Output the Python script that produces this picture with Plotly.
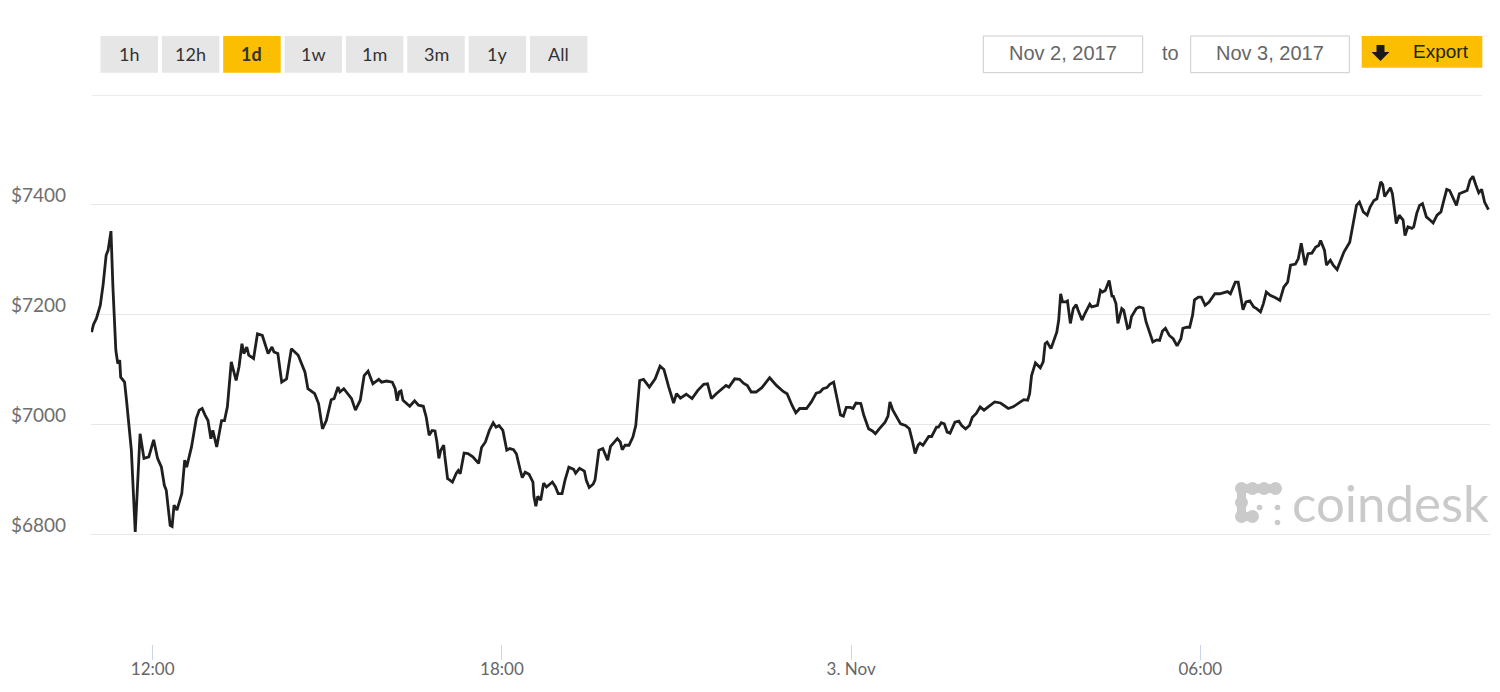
import plotly.graph_objects as go
from datetime import datetime, timedelta

# ---------------- data ----------------
times = [
    "10:57", "10:59", "11:02", "11:06", "11:09", "11:12", "11:14", "11:17", "11:19", "11:22",
    "11:24", "11:26", "11:27", "11:31", "11:33", "11:38", "11:42", "11:47", "11:51", "11:56",
    "12:01", "12:05", "12:09", "12:12", "12:14", "12:18", "12:20", "12:22", "12:25", "12:30",
    "12:33", "12:35", "12:40", "12:45", "12:48", "12:51", "12:54", "12:57", "13:00", "13:02",
    "13:06", "13:11", "13:14", "13:17", "13:21", "13:26", "13:29", "13:32", "13:34", "13:37",
    "13:39", "13:44", "13:48", "13:53", "13:59", "14:03", "14:05", "14:09", "14:13", "14:18",
    "14:23", "14:30", "14:37", "14:40", "14:47", "14:51", "14:55", "14:59", "15:04", "15:07",
    "15:11", "15:13", "15:17", "15:22", "15:25", "15:29", "15:34", "15:38", "15:42", "15:47",
    "15:53", "15:56", "16:01", "16:07", "16:10", "16:12", "16:14", "16:16", "16:18", "16:25",
    "16:30", "16:34", "16:39", "16:42", "16:45", "16:48", "16:51", "16:53", "16:55", "16:57",
    "17:00", "17:01", "17:04", "17:06", "17:09", "17:13", "17:15", "17:17", "17:21", "17:25",
    "17:30", "17:36", "17:39", "17:43", "17:47", "17:51", "17:54", "17:57", "18:01", "18:05",
    "18:08", "18:12", "18:15", "18:19", "18:21", "18:24", "18:28", "18:32", "18:33", "18:35",
    "18:37", "18:40", "18:43", "18:46", "18:49", "18:52", "18:55", "18:58", "19:02", "19:05",
    "19:09", "19:14", "19:16", "19:20", "19:25", "19:27", "19:30", "19:34", "19:36", "19:40",
    "19:44", "19:49", "19:52", "19:56", "19:59", "20:02", "20:04", "20:07", "20:11", "20:15",
    "20:18", "20:22", "20:26", "20:32", "20:38", "20:43", "20:47", "20:52", "20:57", "21:00",
    "21:04", "21:10", "21:16", "21:22", "21:28", "21:32", "21:36", "21:41", "21:47", "21:51",
    "21:54", "22:00", "22:05", "22:09", "22:13", "22:17", "22:22", "22:28", "22:36", "22:43",
    "22:50", "22:54", "22:59", "23:03", "23:07", "23:14", "23:19", "23:24", "23:28", "23:31",
    "23:35", "23:38", "23:42", "23:45", "23:49", "23:52", "23:55", "23:59", "00:02", "00:05",
    "00:10", "00:13", "00:18", "00:22", "00:25", "00:29", "00:35", "00:38", "00:40", "00:43",
    "00:48", "00:51", "00:56", "01:00", "01:03", "01:06", "01:09", "01:11", "01:14", "01:20",
    "01:23", "01:28", "01:30", "01:33", "01:36", "01:39", "01:42", "01:47", "01:51", "01:54",
    "01:58", "02:02", "02:05", "02:09", "02:13", "02:17", "02:22", "02:28", "02:34", "02:37",
    "02:42", "02:47", "02:53", "02:58", "03:02", "03:04", "03:06", "03:10", "03:15", "03:18",
    "03:20", "03:22", "03:26", "03:28", "03:32", "03:34", "03:36", "03:38", "03:41", "03:43",
    "03:46", "03:49", "03:52", "03:54", "03:58", "04:01", "04:06", "04:08", "04:14", "04:17",
    "04:19", "04:22", "04:26", "04:29", "04:30", "04:33", "04:35", "04:39", "04:41", "04:45",
    "04:47", "04:49", "04:54", "04:57", "05:01", "05:04", "05:07", "05:11", "05:15", "05:18",
    "05:21", "05:24", "05:28", "05:32", "05:36", "05:40", "05:42", "05:46", "05:49", "05:52",
    "05:54", "05:58", "06:01", "06:05", "06:09", "06:15", "06:20", "06:24", "06:28", "06:31",
    "06:36", "06:39", "06:41", "06:44", "06:47", "06:51", "06:55", "06:58", "07:02", "07:05",
    "07:08", "07:12", "07:17", "07:22", "07:26", "07:30", "07:33", "07:38", "07:41", "07:44",
    "07:48", "07:51", "07:55", "07:59", "08:02", "08:04", "08:08", "08:10", "08:14", "08:17",
    "08:21", "08:24", "08:28", "08:34", "08:37", "08:41", "08:44", "08:48", "08:52", "08:55",
    "08:59", "09:02", "09:06", "09:08", "09:10", "09:13", "09:16", "09:18", "09:22", "09:25",
    "09:29", "09:31", "09:34", "09:38", "09:40", "09:43", "09:46", "09:49", "09:53", "09:57",
    "10:00", "10:04", "10:08", "10:11", "10:14", "10:17", "10:20", "10:24", "10:27", "10:31",
    "10:35", "10:38", "10:41", "10:44", "10:47", "10:50", "10:53", "10:57",
]
prices = [
    7168, 7182, 7193, 7217, 7256, 7308, 7317, 7352, 7250, 7135,
    7111, 7117, 7086, 7077, 7044, 6953, 6804, 6983, 6938, 6941,
    6972, 6938, 6922, 6889, 6880, 6816, 6814, 6853, 6844, 6874,
    6935, 6922, 6959, 7011, 7026, 7029, 7017, 7007, 6974, 6989,
    6959, 7007, 7007, 7032, 7114, 7080, 7105, 7147, 7129, 7141,
    7126, 7120, 7165, 7162, 7129, 7141, 7132, 7129, 7077, 7083,
    7138, 7126, 7095, 7065, 7056, 7038, 6992, 7007, 7045, 7047,
    7068, 7059, 7065, 7053, 7047, 7026, 7044, 7089, 7097, 7074,
    7082, 7077, 7079, 7077, 7065, 7043, 7059, 7061, 7044, 7033,
    7043, 7035, 7033, 7013, 6980, 6989, 6988, 6968, 6938, 6953,
    6962, 6944, 6901, 6899, 6895, 6911, 6916, 6910, 6948, 6947,
    6941, 6929, 6958, 6968, 6989, 7003, 6995, 6998, 6989, 6953,
    6956, 6954, 6946, 6916, 6903, 6913, 6909, 6895, 6869, 6851,
    6869, 6862, 6893, 6886, 6891, 6895, 6887, 6874, 6874, 6898,
    6922, 6918, 6911, 6920, 6915, 6898, 6885, 6891, 6899, 6953,
    6956, 6935, 6960, 6968, 6974, 6968, 6954, 6962, 6962, 6977,
    6998, 7080, 7082, 7068, 7083, 7106, 7100, 7068, 7039, 7056,
    7048, 7055, 7047, 7062, 7073, 7074, 7047, 7056, 7065, 7071,
    7068, 7083, 7082, 7075, 7071, 7059, 7059, 7067, 7085, 7071,
    7060, 7056, 7035, 7021, 7029, 7029, 7041, 7057, 7059, 7065,
    7067, 7073, 7077, 7050, 7017, 7015, 7031, 7031, 7029, 7039,
    7038, 7017, 6992, 6988, 6983, 6992, 7004, 7015, 7041, 7026,
    7009, 7001, 6998, 6992, 6971, 6947, 6962, 6966, 6962, 6978,
    6978, 6995, 6995, 7003, 7001, 6986, 6984, 7004, 7006, 6998,
    6992, 6998, 7013, 7020, 7032, 7026, 7033, 7041, 7039, 7035,
    7029, 7032, 7039, 7045, 7044, 7056, 7089, 7112, 7103, 7114,
    7147, 7150, 7138, 7147, 7168, 7190, 7238, 7223, 7223, 7225,
    7184, 7211, 7218, 7208, 7190, 7202, 7219, 7214, 7217, 7244,
    7241, 7244, 7262, 7232, 7235, 7220, 7184, 7211, 7208, 7175,
    7177, 7196, 7211, 7214, 7212, 7187, 7171, 7150, 7154, 7153,
    7170, 7175, 7162, 7156, 7143, 7156, 7175, 7177, 7177, 7199,
    7227, 7232, 7232, 7217, 7223, 7238, 7238, 7240, 7242, 7238,
    7259, 7259, 7238, 7209, 7223, 7225, 7214, 7211, 7205, 7220,
    7241, 7235, 7231, 7226, 7250, 7259, 7290, 7292, 7302, 7330,
    7290, 7311, 7312, 7323, 7326, 7335, 7317, 7290, 7299, 7290,
    7282, 7296, 7314, 7332, 7360, 7399, 7405, 7387, 7381, 7396,
    7408, 7411, 7442, 7437, 7415, 7423, 7431, 7420, 7366, 7381,
    7372, 7344, 7360, 7357, 7360, 7384, 7399, 7402, 7378, 7372,
    7367, 7381, 7387, 7408, 7428, 7426, 7414, 7399, 7420, 7423,
    7426, 7445, 7452, 7436, 7422, 7428, 7405, 7391,
]
start_day = "2017-11-02"
x_tickvals = ["2017-11-02 12:00", "2017-11-02 18:00", "2017-11-03 00:00", "2017-11-03 06:00"]
x_ticktext = ["12:00", "18:00", "3. Nov", "06:00"]
y_tickvals = [6800, 7000, 7200, 7400]
y_ticktext = ["$6800", "$7000", "$7200", "$7400"]
y_top = 7600
range_buttons = ["1h", "12h", "1d", "1w", "1m", "3m", "1y", "All"]
selected_button = "1d"
date_from = "Nov 2, 2017"
date_to = "Nov 3, 2017"

# build timestamps (day rolls over when the hour wraps)
xs = []
day = datetime.strptime(start_day, "%Y-%m-%d")
prev_h = None
for t in times:
    h, m = map(int, t.split(":"))
    if prev_h is not None and h < prev_h:
        day += timedelta(days=1)
    prev_h = h
    xs.append(day + timedelta(hours=h, minutes=m))

# ---------------- figure ----------------
# page body has an 8px margin, so the figure is drawn 8px in from the window corner
OFF = 8
WIN_W, WIN_H = 1500, 692
W, H = WIN_W - OFF, WIN_H - OFF
PL, PR, PT, PB = 91, 1490, 95, 644  # plot area in window pixels


def fx(p):
    return (p - PL) / (PR - PL)


def fy(p):
    return (PB - p) / (PB - PT)


fig = go.Figure()
fig.add_trace(go.Scatter(
    x=xs, y=prices, mode="lines",
    line=dict(color="#1f1f1f", width=2.8),
    hoverinfo="skip", showlegend=False,
))

shapes = []
annotations = []

# top border line
shapes.append(dict(type="line", xref="paper", yref="y", x0=fx(92), x1=fx(1482),
                   y0=y_top, y1=y_top, line=dict(color="#e6e6e6", width=1.5), layer="below"))

# range selector buttons
for i, lab in enumerate(range_buttons):
    left = 100.5 + i * 61.35
    right = left + 57.5
    sel = lab == selected_button
    shapes.append(dict(type="rect", xref="paper", yref="paper",
                       x0=fx(left), x1=fx(right), y0=fy(72.7), y1=fy(36),
                       fillcolor="#fcbe00" if sel else "#e6e6e6", line=dict(width=0)))
    annotations.append(dict(xref="paper", yref="paper", x=fx((left + right) / 2), y=fy(54),
                            text=f"<b>{lab}</b>" if sel else lab, showarrow=False,
                            xanchor="center", yanchor="middle",
                            font=dict(family="Lato", size=18, color="#333333")))

# date boxes
for (l, r, txt) in [(983.3, 1142.7, date_from), (1190.7, 1349.3, date_to)]:
    shapes.append(dict(type="rect", xref="paper", yref="paper",
                       x0=fx(l), x1=fx(r), y0=fy(72.7), y1=fy(36),
                       fillcolor="white", line=dict(color="#cccccc", width=1)))
    annotations.append(dict(xref="paper", yref="paper", x=fx((l + r) / 2), y=fy(53),
                            text=txt, showarrow=False, xanchor="center", yanchor="middle",
                            font=dict(family="Liberation Sans", size=20, color="#666666")))
annotations.append(dict(xref="paper", yref="paper", x=fx(1170.5), y=fy(53), text="to",
                        showarrow=False, xanchor="center", yanchor="middle",
                        font=dict(family="Liberation Sans", size=20, color="#666666")))

# export button
shapes.append(dict(type="rect", xref="paper", yref="paper",
                   x0=fx(1361.7), x1=fx(1482.3), y0=fy(67.7), y1=fy(36),
                   fillcolor="#fcbe00", line=dict(width=0)))
arrow_pts = [(1376.5, 45), (1384.5, 45), (1384.5, 52), (1389.5, 52), (1380.5, 61),
             (1371.5, 52), (1376.5, 52)]
path = "M " + " L ".join(f"{fx(a):.5f},{fy(b):.5f}" for a, b in arrow_pts) + " Z"
shapes.append(dict(type="path", xref="paper", yref="paper", path=path,
                   fillcolor="#1a1a1a", line=dict(width=0)))
annotations.append(dict(xref="paper", yref="paper", x=fx(1441), y=fy(52), text="Export",
                        showarrow=False, xanchor="center", yanchor="middle",
                        font=dict(family="Liberation Sans", size=19, color="#222222")))

# coindesk watermark
wm = "#cacaca"


def circle(cx, cy, r):
    return dict(type="circle", xref="paper", yref="paper",
                x0=fx(cx - r), x1=fx(cx + r), y0=fy(cy + r), y1=fy(cy - r),
                fillcolor=wm, line=dict(width=0), layer="below")


def bar(x0, x1, y0, y1):
    return dict(type="rect", xref="paper", yref="paper",
                x0=fx(x0), x1=fx(x1), y0=fy(y1), y1=fy(y0),
                fillcolor=wm, line=dict(width=0), layer="below")


for (cx, cy) in [(1241.5, 488.5), (1252.5, 488.5), (1264, 488.5), (1275.5, 488.5),
                 (1241.5, 502.5), (1241.5, 516.5), (1252.5, 516.5)]:
    shapes.append(circle(cx, cy, 6.5))
shapes.append(bar(1241.5, 1275.5, 484, 493))
shapes.append(bar(1237, 1246, 488.5, 516.5))
shapes.append(bar(1241.5, 1252.5, 512, 521))
for (cx, cy) in [(1259.5, 507.5), (1277.5, 507.5), (1277.5, 522.5)]:
    shapes.append(circle(cx, cy, 2.8))
annotations.append(dict(xref="paper", yref="paper", x=fx(1491), y=fy(503), text="coindesk",
                        showarrow=False, xanchor="right", yanchor="middle",
                        font=dict(family="Lato", size=51, color=wm)))

fig.update_layout(
    width=W, height=H,
    margin=dict(l=PL - OFF, r=WIN_W - PR, t=PT - OFF, b=WIN_H - PB, pad=0, autoexpand=False),
    paper_bgcolor="white", plot_bgcolor="white",
    showlegend=False, hovermode=False,
    shapes=shapes, annotations=annotations,
    xaxis=dict(
        type="date", automargin=False,
        range=["2017-11-02 10:56:24", "2017-11-03 10:58:36"],
        tickvals=x_tickvals, ticktext=x_ticktext,
        showgrid=False, zeroline=False, showline=False,
        ticks="outside", ticklen=15, tickwidth=1, tickcolor="#ccd6eb",
        ticklabelstandoff=-5,
        tickfont=dict(family="Lato", size=17, color="#666666"),
    ),
    yaxis=dict(
        automargin=False,
        range=[6600, y_top],
        tickvals=y_tickvals, ticktext=y_ticktext,
        showgrid=True, gridcolor="#e6e6e6", gridwidth=1.2,
        zeroline=False, showline=False, ticks="",
        ticklabelstandoff=24, ticklabelshift=-9,
        tickfont=dict(family="Lato", size=19, color="#6e6e6e"),
    ),
)

fig.write_html("out.html")
